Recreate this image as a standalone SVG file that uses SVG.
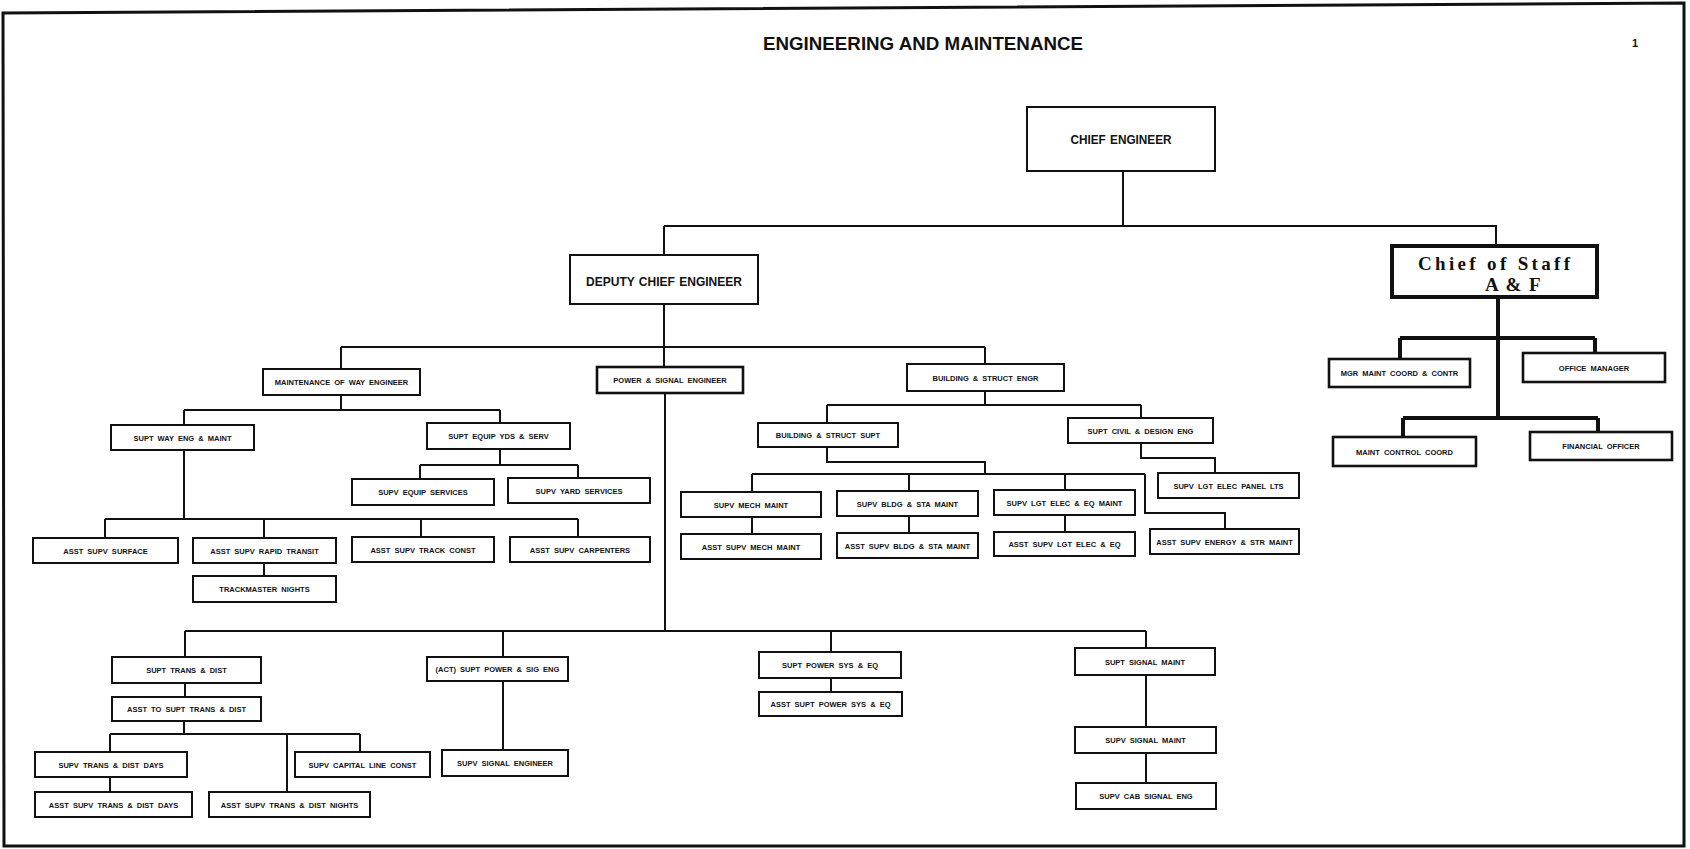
<svg xmlns="http://www.w3.org/2000/svg" width="1690" height="849" viewBox="0 0 1690 849">
<style>
.box{fill:#fff;stroke:#111;stroke-width:2}
.bold{stroke-width:2.6}
.thick{stroke-width:4}
.t{font-family:"Liberation Sans",Arial,sans-serif;font-weight:bold;font-size:7.5px;text-anchor:middle;fill:#111;word-spacing:2px}
.big{font-size:12px;word-spacing:1px}
.mono{font-family:"Liberation Serif","Times New Roman",serif;font-weight:bold;font-size:19px;fill:#111}
.c{stroke:#111;stroke-width:2;fill:none}
.ck{stroke:#111;stroke-width:4;fill:none}
</style>
<rect x="0" y="0" width="1690" height="849" fill="#fff"/>
<path d="M3,13 L1684,3 L1684,846 L4,846 Z" fill="none" stroke="#111" stroke-width="3"/>
<text x="923" y="50" font-family="'Liberation Sans',Arial,sans-serif" font-weight="bold" font-size="18" text-anchor="middle" textLength="320" lengthAdjust="spacingAndGlyphs" fill="#111">ENGINEERING AND MAINTENANCE</text>
<text x="1635" y="47" font-family="'Liberation Sans',Arial,sans-serif" font-weight="bold" font-size="11" text-anchor="middle" fill="#111">1</text>

<g id="connectors">
<path class="c" d="M1123,171 V226 M664,226 H1496 V246 M664,226 V255 M664,304 V367 M341,347 H985 M341,347 V369 M985,347 V364"/>
<path class="c" d="M341,395 V410 M184,410 H500 M184,410 V425 M500,410 V423 M500,449 V465 M420,465 H578 M420,465 V479 M578,465 V478 M184,450 V519 M105,519 H578 M105,519 V538 M264,519 V538 M421,519 V537 M578,519 V537 M264,563 V576"/>
<path class="c" d="M985,391 V405 M827,405 H1141 M827,405 V423 M1141,405 V418 M827,447 V462 H985 V474 M752,474 H1145 M752,474 V492 M909,474 V491 M1065,474 V490 M1145,474 V513 H1225 V529 M752,517 V534 M909,516 V533 M1065,515 V532 M1141,443 V458 H1215 V473"/>
<path class="c" d="M665,393 V631 M185,631 H1146 M185,631 V657 M503,631 V657 M831,631 V652 M1146,631 V648 M185,683 V697 M184,721 V734 M110,734 H360 M110,734 V752 M287,734 V792 M360,734 V752 M110,777 V792 M503,681 V750 M831,678 V692 M1146,675 V727 M1146,753 V783"/>
<path class="ck" d="M1498,297 V418 M1400,338 H1595 M1400,338 V359 M1595,338 V353 M1403,418 H1598 M1403,418 V437 M1598,418 V432"/>
</g>

<g id="chief-of-staff"><rect class="box thick" x="1392" y="246" width="205" height="51"/><text class="mono" x="1418" y="270" textLength="152" lengthAdjust="spacing">Chief of Staff</text><text class="mono" x="1485" y="291" word-spacing="3">A &amp; F</text></g>
<g id="chief-engineer"><rect class="box" x="1027" y="107" width="188" height="64"/><text class="t big" x="1121" y="144" textLength="101" lengthAdjust="spacingAndGlyphs">CHIEF ENGINEER</text></g>
<g id="deputy-chief-engineer"><rect class="box" x="570" y="255" width="188" height="49"/><text class="t big" x="664" y="286" textLength="156" lengthAdjust="spacingAndGlyphs">DEPUTY CHIEF ENGINEER</text></g>
<g id="mow-engineer"><rect class="box" x="263" y="369" width="157" height="26"/><text class="t" x="341.5" y="385">MAINTENANCE OF WAY ENGINEER</text></g>
<g id="power-signal-engineer"><rect class="box bold" x="597" y="367" width="146" height="26"/><text class="t" x="670" y="383">POWER &amp; SIGNAL ENGINEER</text></g>
<g id="building-struct-engr"><rect class="box" x="907" y="364" width="157" height="27"/><text class="t" x="985.5" y="380.5">BUILDING &amp; STRUCT ENGR</text></g>
<g id="supt-way-eng"><rect class="box" x="111" y="425" width="143" height="25"/><text class="t" x="182.5" y="440.5">SUPT WAY ENG &amp; MAINT</text></g>
<g id="supt-equip-yds"><rect class="box" x="427" y="423" width="143" height="26"/><text class="t" x="498.5" y="439">SUPT EQUIP YDS &amp; SERV</text></g>
<g id="supv-equip-services"><rect class="box" x="352" y="479" width="142" height="26"/><text class="t" x="423" y="495">SUPV EQUIP SERVICES</text></g>
<g id="supv-yard-services"><rect class="box" x="508" y="478" width="142" height="25"/><text class="t" x="579" y="493.5">SUPV YARD SERVICES</text></g>
<g id="asst-supv-surface"><rect class="box" x="33" y="538" width="145" height="25"/><text class="t" x="105.5" y="553.5">ASST SUPV SURFACE</text></g>
<g id="asst-supv-rapid-transit"><rect class="box" x="193" y="538" width="143" height="25"/><text class="t" x="264.5" y="553.5">ASST SUPV RAPID TRANSIT</text></g>
<g id="asst-supv-track-const"><rect class="box" x="352" y="537" width="142" height="25"/><text class="t" x="423" y="552.5">ASST SUPV TRACK CONST</text></g>
<g id="asst-supv-carpenters"><rect class="box" x="510" y="537" width="140" height="25"/><text class="t" x="580" y="552.5">ASST SUPV CARPENTERS</text></g>
<g id="trackmaster-nights"><rect class="box" x="193" y="576" width="143" height="26"/><text class="t" x="264.5" y="592">TRACKMASTER NIGHTS</text></g>
<g id="building-struct-supt"><rect class="box" x="758" y="423" width="140" height="24"/><text class="t" x="828" y="438">BUILDING &amp; STRUCT SUPT</text></g>
<g id="supt-civil-design"><rect class="box" x="1068" y="418" width="145" height="25"/><text class="t" x="1140.5" y="433.5">SUPT CIVIL &amp; DESIGN ENG</text></g>
<g id="supv-lgt-elec-panel"><rect class="box" x="1158" y="473" width="141" height="25"/><text class="t" x="1228.5" y="488.5">SUPV LGT ELEC PANEL LTS</text></g>
<g id="supv-mech-maint"><rect class="box" x="681" y="492" width="140" height="25"/><text class="t" x="751" y="507.5">SUPV MECH MAINT</text></g>
<g id="supv-bldg-sta-maint"><rect class="box" x="837" y="491" width="141" height="25"/><text class="t" x="907.5" y="506.5">SUPV BLDG &amp; STA MAINT</text></g>
<g id="supv-lgt-elec-eq-maint"><rect class="box" x="994" y="490" width="141" height="25"/><text class="t" x="1064.5" y="505.5">SUPV LGT ELEC &amp; EQ MAINT</text></g>
<g id="asst-supv-mech-maint"><rect class="box" x="681" y="534" width="140" height="25"/><text class="t" x="751" y="549.5">ASST SUPV MECH MAINT</text></g>
<g id="asst-supv-bldg-sta-maint"><rect class="box" x="837" y="533" width="141" height="25"/><text class="t" x="907.5" y="548.5">ASST SUPV BLDG &amp; STA MAINT</text></g>
<g id="asst-supv-lgt-elec-eq"><rect class="box" x="994" y="532" width="141" height="24"/><text class="t" x="1064.5" y="547">ASST SUPV LGT ELEC &amp; EQ</text></g>
<g id="asst-supv-energy-str"><rect class="box" x="1150" y="529" width="149" height="25"/><text class="t" x="1224.5" y="544.5">ASST SUPV ENERGY &amp; STR MAINT</text></g>
<g id="supt-trans-dist"><rect class="box" x="112" y="657" width="149" height="26"/><text class="t" x="186.5" y="673">SUPT TRANS &amp; DIST</text></g>
<g id="asst-to-supt-trans-dist"><rect class="box" x="112" y="697" width="149" height="24"/><text class="t" x="186.5" y="712">ASST TO SUPT TRANS &amp; DIST</text></g>
<g id="supv-trans-dist-days"><rect class="box" x="35" y="752" width="152" height="25"/><text class="t" x="111" y="767.5">SUPV TRANS &amp; DIST DAYS</text></g>
<g id="asst-supv-trans-dist-days"><rect class="box" x="35" y="792" width="157" height="25"/><text class="t" x="113.5" y="807.5">ASST SUPV TRANS &amp; DIST DAYS</text></g>
<g id="supv-capital-line-const"><rect class="box" x="295" y="752" width="135" height="25"/><text class="t" x="362.5" y="767.5">SUPV CAPITAL LINE CONST</text></g>
<g id="asst-supv-trans-dist-nights"><rect class="box" x="209" y="792" width="161" height="25"/><text class="t" x="289.5" y="807.5">ASST SUPV TRANS &amp; DIST NIGHTS</text></g>
<g id="act-supt-power-sig"><rect class="box" x="427" y="657" width="141" height="24"/><text class="t" x="497.5" y="672">(ACT) SUPT POWER &amp; SIG ENG</text></g>
<g id="supv-signal-engineer"><rect class="box" x="442" y="750" width="126" height="26"/><text class="t" x="505" y="766">SUPV SIGNAL ENGINEER</text></g>
<g id="supt-power-sys"><rect class="box" x="759" y="652" width="142" height="26"/><text class="t" x="830" y="668">SUPT POWER SYS &amp; EQ</text></g>
<g id="asst-supt-power-sys"><rect class="box" x="759" y="692" width="143" height="24"/><text class="t" x="830.5" y="707">ASST SUPT POWER SYS &amp; EQ</text></g>
<g id="supt-signal-maint"><rect class="box" x="1075" y="648" width="140" height="27"/><text class="t" x="1145" y="664.5">SUPT SIGNAL MAINT</text></g>
<g id="supv-signal-maint"><rect class="box" x="1075" y="727" width="141" height="26"/><text class="t" x="1145.5" y="743">SUPV SIGNAL MAINT</text></g>
<g id="supv-cab-signal-eng"><rect class="box" x="1076" y="783" width="140" height="26"/><text class="t" x="1146" y="799">SUPV CAB SIGNAL ENG</text></g>
<g id="mgr-maint-coord"><rect class="box bold" x="1329" y="359" width="141" height="28"/><text class="t" x="1399.5" y="376">MGR MAINT COORD &amp; CONTR</text></g>
<g id="office-manager"><rect class="box bold" x="1523" y="353" width="142" height="29"/><text class="t" x="1594" y="370.5">OFFICE MANAGER</text></g>
<g id="maint-control-coord"><rect class="box bold" x="1333" y="437" width="143" height="29"/><text class="t" x="1404.5" y="454.5">MAINT CONTROL COORD</text></g>
<g id="financial-officer"><rect class="box bold" x="1530" y="432" width="142" height="28"/><text class="t" x="1601" y="449">FINANCIAL OFFICER</text></g>
</svg>
